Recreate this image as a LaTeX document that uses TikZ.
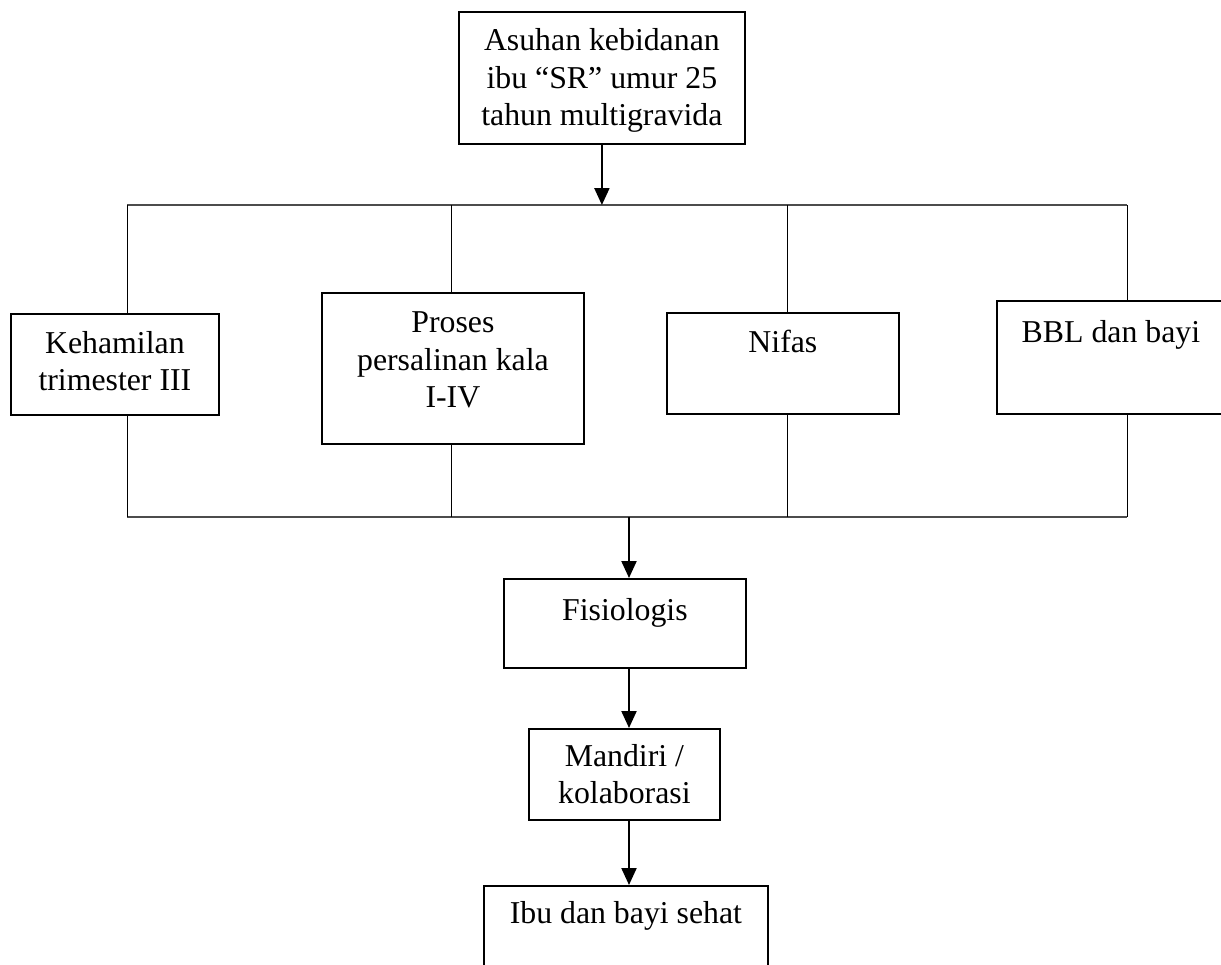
\documentclass[tikz,border=0pt]{standalone}
\usepackage{fontspec}
\setmainfont{Liberation Serif}
\usetikzlibrary{arrows.meta}

\tikzset{
  kotak/.style={draw, line width=0.9pt, inner sep=0pt, align=center, anchor=north west,
    font=\fontsize{15.9}{18.75}\selectfont},
  tipis/.style={line width=0.5pt},
  bus/.style={line width=0.8pt, draw=black!70},
  panah/.style={line width=1.1pt, -{Triangle[length=8.5pt,width=7.5pt]}}
}

\begin{document}
\begin{tikzpicture}[x=0.5pt, y=-0.5pt]
\clip (0,0) rectangle (1221,964);

\node[kotak, minimum width=143pt, text height=57pt, text depth=9pt] (atas) at (458,11)
  {Asuhan kebidanan\\ibu ``SR'' umur 25\\tahun multigravida};

\node[kotak, minimum width=104pt, text height=38.5pt, text depth=12pt] (hamil) at (10,313)
  {Kehamilan\\trimester III};
\node[kotak, minimum width=131pt, text height=57.5pt, text depth=18pt] (proses) at (321,292)
  {Proses\\persalinan kala\\I-IV};
\node[kotak, minimum width=116pt, text height=20pt, text depth=30.5pt] (nifas) at (666,312)
  {Nifas};
\node[kotak, minimum width=114pt, text height=21pt, text depth=35.5pt] (bbl) at (996,300)
  {BBL dan bayi};

\node[kotak, minimum width=121pt, text height=21pt, text depth=23.5pt] (fisio) at (503,578)
  {Fisiologis};
\node[kotak, minimum width=95.5pt, text height=37.5pt, text depth=8pt] (mandiri) at (528,728)
  {Mandiri /\\kolaborasi};
\node[kotak, minimum width=142pt, text height=19pt, text depth=28.5pt] (ibu) at (483,885)
  {Ibu dan bayi sehat};

\foreach \x [count=\i] in {127,451,787,1127} {
  \coordinate (ats\i) at (\x,205);
  \coordinate (bwh\i) at (\x,517);
}
\coordinate (pusat) at (629,517);

\draw[bus] (ats1) -- (ats4);
\draw[bus] (bwh1) -- (bwh4);

\draw[tipis] (ats1) -- (ats1 |- hamil.north)  (hamil.south -| bwh1) -- (bwh1);
\draw[tipis] (ats2) -- (ats2 |- proses.north) (proses.south -| bwh2) -- (bwh2);
\draw[tipis] (ats3) -- (ats3 |- nifas.north)  (nifas.south -| bwh3) -- (bwh3);
\draw[tipis] (ats4) -- (ats4 |- bbl.north)    (bbl.south -| bwh4) -- (bwh4);

\draw[panah] (atas.south) -- (atas.south |- ats1);
\draw[panah] (pusat) -- (pusat |- fisio.north);
\draw[panah] (pusat |- fisio.south) -- (pusat |- mandiri.north);
\draw[panah] (pusat |- mandiri.south) -- (pusat |- ibu.north);
\end{tikzpicture}
\end{document}
